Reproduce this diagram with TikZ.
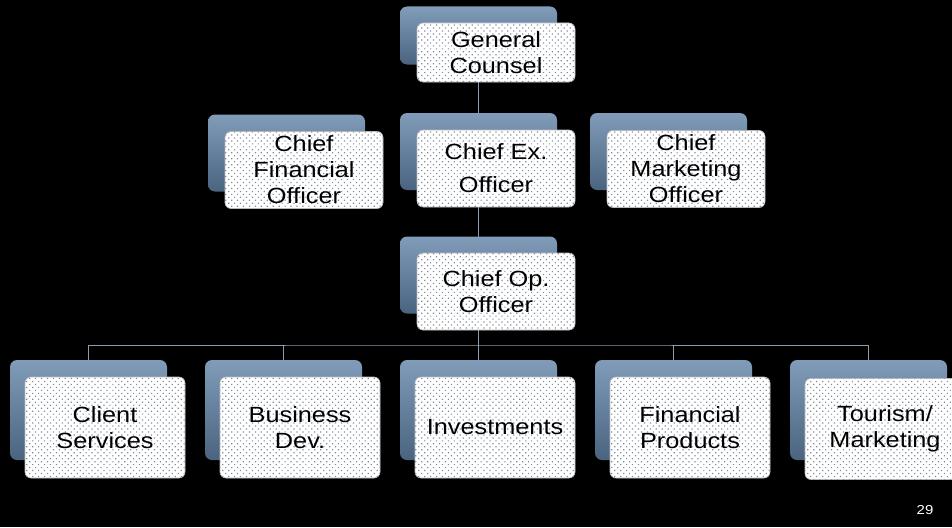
\documentclass[tikz,border=0pt]{standalone}
\usepackage{fontspec}
\setmainfont[FakeStretch=1.15]{Liberation Sans}
\usetikzlibrary{patterns.meta}
\pgfdeclarelayer{bg}
\pgfdeclarelayer{connlayer}
\pgfdeclarelayer{backlayer}
\pgfsetlayers{bg,connlayer,backlayer,main}
\definecolor{backtop}{HTML}{809CB8}
\definecolor{backbot}{HTML}{4A6480}
\definecolor{conncol}{HTML}{8A9CB0}
\definecolor{dotcol}{HTML}{7F8C9E}
\tikzset{
  backbox/.style={rectangle, rounded corners=7pt, top color=backtop, bottom color=backbot, draw=none, inner sep=0pt},
  frontbox/.style={rectangle, rounded corners=6pt, fill=white, draw=gray!55, line width=0.6pt, inner sep=0pt,
    postaction={pattern={Dots[radius=0.85pt, distance=4.2pt, angle=45]}, pattern color=dotcol},
    align=center, font=\fontsize{22}{26}\selectfont, text=black},
  conn/.style={draw=conncol, line width=0.7pt},
  rowa/.style={minimum width=157pt, minimum height=58pt},
  rowb/.style={minimum width=157pt, minimum height=77pt},
  rowc/.style={minimum width=157pt, minimum height=100pt},
  frowa/.style={minimum width=158pt, minimum height=59pt},
  frowb/.style={minimum width=158pt, minimum height=77pt},
  frowc/.style={minimum width=160pt, minimum height=101pt},
  pagenum/.style={text=white, font=\fontsize{13}{15}\selectfont, inner sep=0pt},
}
\begin{document}
\begin{tikzpicture}[x=1pt,y=-1pt]
\begin{pgfonlayer}{bg}
\fill[black] (0,0) rectangle (952,527);
\end{pgfonlayer}
\useasboundingbox (0,0) rectangle (952,527);
\clip (0,0) rectangle (952,527);
% back boxes
\begin{pgfonlayer}{backlayer}
\path (478.5,35.5) node[backbox,rowa] (gcb) {};
\path (286.5,153) node[backbox,rowb] (cfob) {};
\path (478.5,151.5) node[backbox,rowb] (ceob) {};
\path (668.5,151.5) node[backbox,rowb] (cmob) {};
\path (478.5,275) node[backbox,rowb] (coob) {};
\path (88.5,410) node[backbox,rowc] (csb) {};
\path (283.5,410) node[backbox,rowc] (bdb) {};
\path (478.5,410) node[backbox,rowc] (invb) {};
\path (673.5,410) node[backbox,rowc] (fpb) {};
\path (868.5,410) node[backbox,rowc] (tmb) {};
\end{pgfonlayer}
% front boxes
\path (496,52.5) node[frontbox,frowa] (gc) {General\\Counsel};
\path (304,170) node[frontbox,frowb] (cfo) {Chief\\Financial\\Officer};
\path (496,168.5) node[frontbox,frowb] (ceo) {Chief Ex.\\[7pt]Officer};
\path (686,169) node[frontbox,frowb] (cmo) {Chief\\Marketing\\Officer};
\path (496,291.5) node[frontbox,frowb] (coo) {Chief Op.\\Officer};
\path (105,427.5) node[frontbox,frowc] (cs) {Client\\Services};
\path (300,427.5) node[frontbox,frowc] (bd) {Business\\Dev.};
\path (495,427.5) node[frontbox,frowc] (inv) {Investments};
\path (690,427.5) node[frontbox,frowc] (fp) {Financial\\Products};
\path (885,429) node[frontbox,frowc] (tm) {Tourism/\\Marketing};
\coordinate (bus) at (478.5,345);
\node[pagenum] (pg) at (925,510) {29};
% connectors
\begin{pgfonlayer}{connlayer}
\draw[conn] (gcb.center) -- (ceob.center);
\draw[conn] (ceob.center) -- (coob.center);
\draw[conn] (coob.center) -- (bus);
\draw[conn] (csb.center) |- (bus) -| (tmb.center);
\draw[conn] (bdb.center) -- (bdb.center |- bus);
\draw[conn] (invb.center) -- (bus);
\draw[conn] (fpb.center) -- (fpb.center |- bus);
\end{pgfonlayer}
\end{tikzpicture}
\end{document}
